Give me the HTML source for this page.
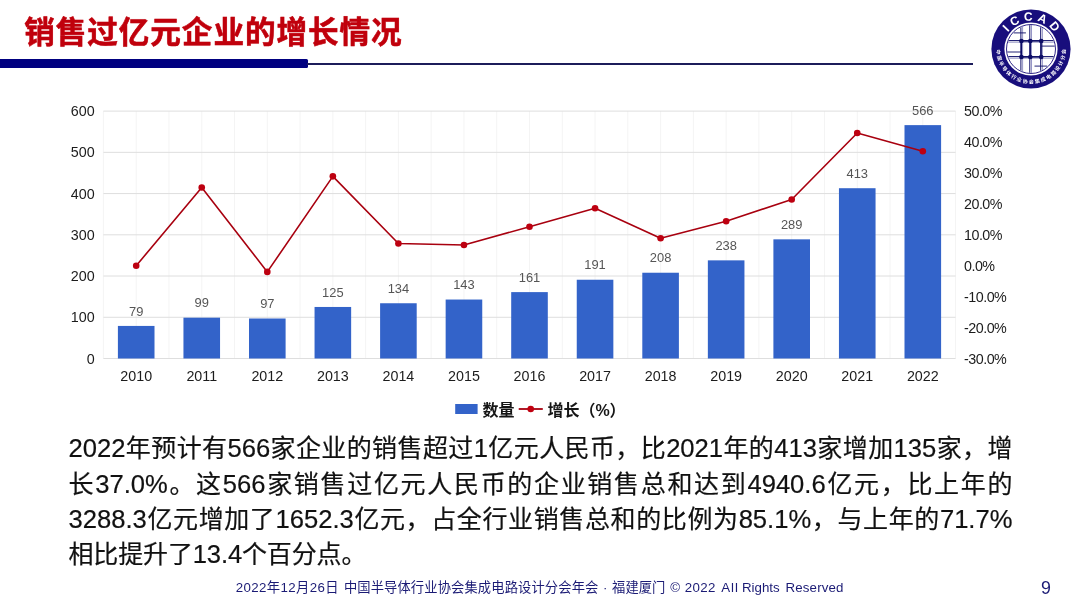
<!DOCTYPE html>
<html lang="zh-CN"><head><meta charset="utf-8"><title>销售过亿元企业的增长情况</title>
<style>
html,body{margin:0;padding:0;background:#fff;}
body{width:1080px;height:607px;position:relative;overflow:hidden;font-family:"Liberation Sans","Noto Sans CJK SC",sans-serif;}
#title{position:absolute;left:24.3px;top:9.2px;font-size:30.6px;letter-spacing:.92px;line-height:46px;font-weight:700;color:#c0000c;white-space:nowrap;-webkit-text-stroke:.5px #c0000c;text-shadow:0 0 1px rgba(192,0,12,.4);}
#bar{position:absolute;left:0;top:59.3px;width:308px;height:8.7px;background:#000080;border-radius:0 1.5px 1.5px 0;}
#rule{position:absolute;left:307px;top:62.7px;width:666px;height:2px;background:#1c1c5a;}
#chart{position:absolute;left:0;top:0;}
#chart text{font-family:"Liberation Sans","Noto Sans CJK SC",sans-serif;}
.ax{font-size:14.3px;fill:#1c1c1c;}
.axr{letter-spacing:-0.5px;}
.dl{font-size:12.9px;fill:#555;}
.lg{font-size:16px;font-weight:700;fill:#161616;}
#body{position:absolute;left:68.5px;top:431.3px;width:944px;font-size:25px;line-height:35.3px;color:#111;margin:0;-webkit-text-stroke:.2px #111;}
#body .ln{display:block;text-align:justify;text-align-last:justify;text-justify:inter-character;white-space:nowrap;}
#body .n{font-size:25.6px;line-height:0;}
#body .ln.last{text-align:left;text-align-last:left;letter-spacing:-.15px;}
#foot{position:absolute;left:0;width:1080px;top:578px;height:20px;font-size:13.3px;line-height:20px;color:#1b1b75;white-space:nowrap;}
#foot span{position:absolute;top:0;white-space:pre;}
#pg{position:absolute;left:1036px;top:575.8px;width:20px;text-align:center;font-size:17.8px;line-height:24px;color:#1b1b75;}
#logo{position:absolute;left:991.0px;top:8.8px;}
</style></head><body>
<div id="title">销售过亿元企业的增长情况</div>
<div id="bar"></div><div id="rule"></div>
<svg id="logo" width="80" height="80" viewBox="0 0 800 800">
<defs><clipPath id="lc"><circle cx="400" cy="400" r="239"/></clipPath>
<path id="arcT" d="M 116,400 A 284 284 0 0 1 684,400"/>
<path id="arcB" d="M 53,400 A 347 347 0 0 0 747,400"/>
</defs>
<circle cx="400" cy="400" r="396" fill="#180e7c"/>
<circle cx="400" cy="400" r="266" fill="#fff"/>
<circle cx="400" cy="400" r="245" fill="none" stroke="#180e7c" stroke-width="9"/>
<g clip-path="url(#lc)">
<line x1="299" y1="155" x2="299" y2="645" stroke="#0c0c66" stroke-width="10"/>
<line x1="316" y1="155" x2="316" y2="645" stroke="#6a6aae" stroke-width="7"/>
<line x1="388" y1="155" x2="388" y2="645" stroke="#0c0c66" stroke-width="10"/>
<line x1="405" y1="155" x2="405" y2="645" stroke="#6a6aae" stroke-width="7"/>
<line x1="497" y1="155" x2="497" y2="645" stroke="#0c0c66" stroke-width="10"/>
<line x1="514" y1="155" x2="514" y2="645" stroke="#6a6aae" stroke-width="7"/>
<line x1="155" y1="316" x2="645" y2="316" stroke="#0c0c66" stroke-width="10"/>
<line x1="155" y1="332" x2="645" y2="332" stroke="#6a6aae" stroke-width="7"/>
<line x1="155" y1="476" x2="645" y2="476" stroke="#0c0c66" stroke-width="10"/>
<line x1="155" y1="492" x2="645" y2="492" stroke="#6a6aae" stroke-width="7"/>
<rect x="304" y="320" width="198" height="160" fill="none" stroke="#0c0c66" stroke-width="13"/>
<line x1="393" y1="320" x2="393" y2="480" stroke="#0c0c66" stroke-width="13"/>
<line x1="226" y1="239" x2="349" y2="239" stroke="#0c0c66" stroke-width="9"/>
<line x1="502" y1="371" x2="645" y2="371" stroke="#0c0c66" stroke-width="9"/>
<line x1="155" y1="430" x2="304" y2="430" stroke="#0c0c66" stroke-width="9"/>
<line x1="435" y1="571" x2="562" y2="571" stroke="#0c0c66" stroke-width="9"/>
<circle cx="304" cy="320" r="23" fill="#0c0c66"/>
<circle cx="304" cy="480" r="23" fill="#0c0c66"/>
<circle cx="393" cy="320" r="23" fill="#0c0c66"/>
<circle cx="393" cy="480" r="23" fill="#0c0c66"/>
<circle cx="502" cy="320" r="23" fill="#0c0c66"/>
<circle cx="502" cy="480" r="23" fill="#0c0c66"/>
</g>
<text font-family="Liberation Sans, sans-serif" font-weight="700" font-size="120" fill="#fff" text-anchor="middle" letter-spacing="40"><textPath href="#arcT" startOffset="52.3%">ICCAD</textPath></text>
<text font-family="Noto Sans CJK SC, sans-serif" font-weight="700" font-size="50" fill="#fff" letter-spacing="14.3"><textPath href="#arcB" startOffset="0.7%">中国半导体行业协会集成电路设计分会</textPath></text>
</svg>
<svg id="chart" width="1080" height="607" viewBox="0 0 1080 607">
<line x1="103.42" y1="111.1" x2="103.42" y2="358.5" stroke="#f4f4f4" stroke-width="1"/>
<line x1="136.20" y1="111.1" x2="136.20" y2="358.5" stroke="#f4f4f4" stroke-width="1"/>
<line x1="168.97" y1="111.1" x2="168.97" y2="358.5" stroke="#f4f4f4" stroke-width="1"/>
<line x1="201.75" y1="111.1" x2="201.75" y2="358.5" stroke="#f4f4f4" stroke-width="1"/>
<line x1="234.52" y1="111.1" x2="234.52" y2="358.5" stroke="#f4f4f4" stroke-width="1"/>
<line x1="267.30" y1="111.1" x2="267.30" y2="358.5" stroke="#f4f4f4" stroke-width="1"/>
<line x1="300.07" y1="111.1" x2="300.07" y2="358.5" stroke="#f4f4f4" stroke-width="1"/>
<line x1="332.85" y1="111.1" x2="332.85" y2="358.5" stroke="#f4f4f4" stroke-width="1"/>
<line x1="365.62" y1="111.1" x2="365.62" y2="358.5" stroke="#f4f4f4" stroke-width="1"/>
<line x1="398.40" y1="111.1" x2="398.40" y2="358.5" stroke="#f4f4f4" stroke-width="1"/>
<line x1="431.17" y1="111.1" x2="431.17" y2="358.5" stroke="#f4f4f4" stroke-width="1"/>
<line x1="463.95" y1="111.1" x2="463.95" y2="358.5" stroke="#f4f4f4" stroke-width="1"/>
<line x1="496.72" y1="111.1" x2="496.72" y2="358.5" stroke="#f4f4f4" stroke-width="1"/>
<line x1="529.50" y1="111.1" x2="529.50" y2="358.5" stroke="#f4f4f4" stroke-width="1"/>
<line x1="562.27" y1="111.1" x2="562.27" y2="358.5" stroke="#f4f4f4" stroke-width="1"/>
<line x1="595.05" y1="111.1" x2="595.05" y2="358.5" stroke="#f4f4f4" stroke-width="1"/>
<line x1="627.82" y1="111.1" x2="627.82" y2="358.5" stroke="#f4f4f4" stroke-width="1"/>
<line x1="660.60" y1="111.1" x2="660.60" y2="358.5" stroke="#f4f4f4" stroke-width="1"/>
<line x1="693.37" y1="111.1" x2="693.37" y2="358.5" stroke="#f4f4f4" stroke-width="1"/>
<line x1="726.15" y1="111.1" x2="726.15" y2="358.5" stroke="#f4f4f4" stroke-width="1"/>
<line x1="758.92" y1="111.1" x2="758.92" y2="358.5" stroke="#f4f4f4" stroke-width="1"/>
<line x1="791.70" y1="111.1" x2="791.70" y2="358.5" stroke="#f4f4f4" stroke-width="1"/>
<line x1="824.47" y1="111.1" x2="824.47" y2="358.5" stroke="#f4f4f4" stroke-width="1"/>
<line x1="857.25" y1="111.1" x2="857.25" y2="358.5" stroke="#f4f4f4" stroke-width="1"/>
<line x1="890.02" y1="111.1" x2="890.02" y2="358.5" stroke="#f4f4f4" stroke-width="1"/>
<line x1="922.80" y1="111.1" x2="922.80" y2="358.5" stroke="#f4f4f4" stroke-width="1"/>
<line x1="955.57" y1="111.1" x2="955.57" y2="358.5" stroke="#f4f4f4" stroke-width="1"/>
<line x1="103.42" y1="358.50" x2="955.57" y2="358.50" stroke="#dedede" stroke-width="1"/>
<line x1="103.42" y1="317.27" x2="955.57" y2="317.27" stroke="#dedede" stroke-width="1"/>
<line x1="103.42" y1="276.03" x2="955.57" y2="276.03" stroke="#dedede" stroke-width="1"/>
<line x1="103.42" y1="234.80" x2="955.57" y2="234.80" stroke="#dedede" stroke-width="1"/>
<line x1="103.42" y1="193.57" x2="955.57" y2="193.57" stroke="#dedede" stroke-width="1"/>
<line x1="103.42" y1="152.33" x2="955.57" y2="152.33" stroke="#dedede" stroke-width="1"/>
<line x1="103.42" y1="111.10" x2="955.57" y2="111.10" stroke="#dedede" stroke-width="1"/>
<rect x="117.90" y="325.93" width="36.6" height="32.57" fill="#3363c9"/>
<rect x="183.45" y="317.68" width="36.6" height="40.82" fill="#3363c9"/>
<rect x="249.00" y="318.50" width="36.6" height="40.00" fill="#3363c9"/>
<rect x="314.55" y="306.96" width="36.6" height="51.54" fill="#3363c9"/>
<rect x="380.10" y="303.25" width="36.6" height="55.25" fill="#3363c9"/>
<rect x="445.65" y="299.54" width="36.6" height="58.96" fill="#3363c9"/>
<rect x="511.20" y="292.11" width="36.6" height="66.39" fill="#3363c9"/>
<rect x="576.75" y="279.74" width="36.6" height="78.76" fill="#3363c9"/>
<rect x="642.30" y="272.73" width="36.6" height="85.77" fill="#3363c9"/>
<rect x="707.85" y="260.36" width="36.6" height="98.14" fill="#3363c9"/>
<rect x="773.40" y="239.34" width="36.6" height="119.16" fill="#3363c9"/>
<rect x="838.95" y="188.21" width="36.6" height="170.29" fill="#3363c9"/>
<rect x="904.50" y="125.12" width="36.6" height="233.38" fill="#3363c9"/>
<text class="ax" x="94.7" y="363.60" text-anchor="end">0</text>
<text class="ax" x="94.7" y="322.37" text-anchor="end">100</text>
<text class="ax" x="94.7" y="281.13" text-anchor="end">200</text>
<text class="ax" x="94.7" y="239.90" text-anchor="end">300</text>
<text class="ax" x="94.7" y="198.67" text-anchor="end">400</text>
<text class="ax" x="94.7" y="157.43" text-anchor="end">500</text>
<text class="ax" x="94.7" y="116.20" text-anchor="end">600</text>
<text class="ax axr" x="964" y="363.60">-30.0%</text>
<text class="ax axr" x="964" y="332.68">-20.0%</text>
<text class="ax axr" x="964" y="301.75">-10.0%</text>
<text class="ax axr" x="964" y="270.83">0.0%</text>
<text class="ax axr" x="964" y="239.90">10.0%</text>
<text class="ax axr" x="964" y="208.97">20.0%</text>
<text class="ax axr" x="964" y="178.05">30.0%</text>
<text class="ax axr" x="964" y="147.12">40.0%</text>
<text class="ax axr" x="964" y="116.20">50.0%</text>
<text class="ax" x="136.20" y="380.8" text-anchor="middle">2010</text>
<text class="ax" x="201.75" y="380.8" text-anchor="middle">2011</text>
<text class="ax" x="267.30" y="380.8" text-anchor="middle">2012</text>
<text class="ax" x="332.85" y="380.8" text-anchor="middle">2013</text>
<text class="ax" x="398.40" y="380.8" text-anchor="middle">2014</text>
<text class="ax" x="463.95" y="380.8" text-anchor="middle">2015</text>
<text class="ax" x="529.50" y="380.8" text-anchor="middle">2016</text>
<text class="ax" x="595.05" y="380.8" text-anchor="middle">2017</text>
<text class="ax" x="660.60" y="380.8" text-anchor="middle">2018</text>
<text class="ax" x="726.15" y="380.8" text-anchor="middle">2019</text>
<text class="ax" x="791.70" y="380.8" text-anchor="middle">2020</text>
<text class="ax" x="857.25" y="380.8" text-anchor="middle">2021</text>
<text class="ax" x="922.80" y="380.8" text-anchor="middle">2022</text>
<text class="dl" x="136.20" y="315.63" text-anchor="middle">79</text>
<text class="dl" x="201.75" y="307.38" text-anchor="middle">99</text>
<text class="dl" x="267.30" y="308.20" text-anchor="middle">97</text>
<text class="dl" x="332.85" y="296.66" text-anchor="middle">125</text>
<text class="dl" x="398.40" y="292.95" text-anchor="middle">134</text>
<text class="dl" x="463.95" y="289.24" text-anchor="middle">143</text>
<text class="dl" x="529.50" y="281.81" text-anchor="middle">161</text>
<text class="dl" x="595.05" y="269.44" text-anchor="middle">191</text>
<text class="dl" x="660.60" y="262.43" text-anchor="middle">208</text>
<text class="dl" x="726.15" y="250.06" text-anchor="middle">238</text>
<text class="dl" x="791.70" y="229.04" text-anchor="middle">289</text>
<text class="dl" x="857.25" y="177.91" text-anchor="middle">413</text>
<text class="dl" x="922.80" y="114.82" text-anchor="middle">566</text>
<polyline points="136.20,265.73 201.75,187.48 267.30,271.91 332.85,176.35 398.40,243.46 463.95,245.01 529.50,226.76 595.05,208.20 660.60,238.20 726.15,221.19 791.70,199.55 857.25,133.06 922.80,151.30" fill="none" stroke="#a8000f" stroke-width="1.6" stroke-linejoin="round"/>
<circle cx="136.20" cy="265.73" r="3.3" fill="#bd0010"/>
<circle cx="201.75" cy="187.48" r="3.3" fill="#bd0010"/>
<circle cx="267.30" cy="271.91" r="3.3" fill="#bd0010"/>
<circle cx="332.85" cy="176.35" r="3.3" fill="#bd0010"/>
<circle cx="398.40" cy="243.46" r="3.3" fill="#bd0010"/>
<circle cx="463.95" cy="245.01" r="3.3" fill="#bd0010"/>
<circle cx="529.50" cy="226.76" r="3.3" fill="#bd0010"/>
<circle cx="595.05" cy="208.20" r="3.3" fill="#bd0010"/>
<circle cx="660.60" cy="238.20" r="3.3" fill="#bd0010"/>
<circle cx="726.15" cy="221.19" r="3.3" fill="#bd0010"/>
<circle cx="791.70" cy="199.55" r="3.3" fill="#bd0010"/>
<circle cx="857.25" cy="133.06" r="3.3" fill="#bd0010"/>
<circle cx="922.80" cy="151.30" r="3.3" fill="#bd0010"/>
<rect x="455.2" y="404" width="22.4" height="10" fill="#3363c9"/>
<text class="lg" x="482.6" y="415.8">数量</text>
<line x1="518.7" y1="409" x2="542.8" y2="409" stroke="#a8000f" stroke-width="1.8"/>
<circle cx="530.7" cy="409" r="3.3" fill="#c00010"/>
<text class="lg" x="547.4" y="415.8">增长（%）</text>
</svg>
<p id="body"><span class="ln"><span class="n">2022</span>年预计有<span class="n">566</span>家企业的销售超过<span class="n">1</span>亿元人民币，比<span class="n">2021</span>年的<span class="n">413</span>家增加<span class="n">135</span>家，增</span><span class="ln">长<span class="n">37.0%</span>。这<span class="n">566</span>家销售过亿元人民币的企业销售总和达到<span class="n">4940.6</span>亿元，比上年的</span><span class="ln"><span class="n">3288.3</span>亿元增加了<span class="n">1652.3</span>亿元，占全行业销售总和的比例为<span class="n">85.1%</span>，与上年的<span class="n">71.7%</span></span><span class="ln last">相比提升了<span class="n">13.4</span>个百分点。</span></p>
<div id="foot"><span style="left:235.8px;letter-spacing:.36px">2022年12月26日 </span><span style="left:343.9px;letter-spacing:.1px">中国半导体行业协会集成电路设计分会年会</span><span style="left:603px">· </span><span style="left:612.1px">福建厦门 </span><span style="left:670.2px">©</span><span style="left:684.7px;letter-spacing:.4px">2022 </span><span style="left:721.3px;letter-spacing:.9px">All </span><span style="left:742px">Rights </span><span style="left:785.5px;letter-spacing:.15px">Reserved</span></div>
<div id="pg">9</div>
</body></html>
